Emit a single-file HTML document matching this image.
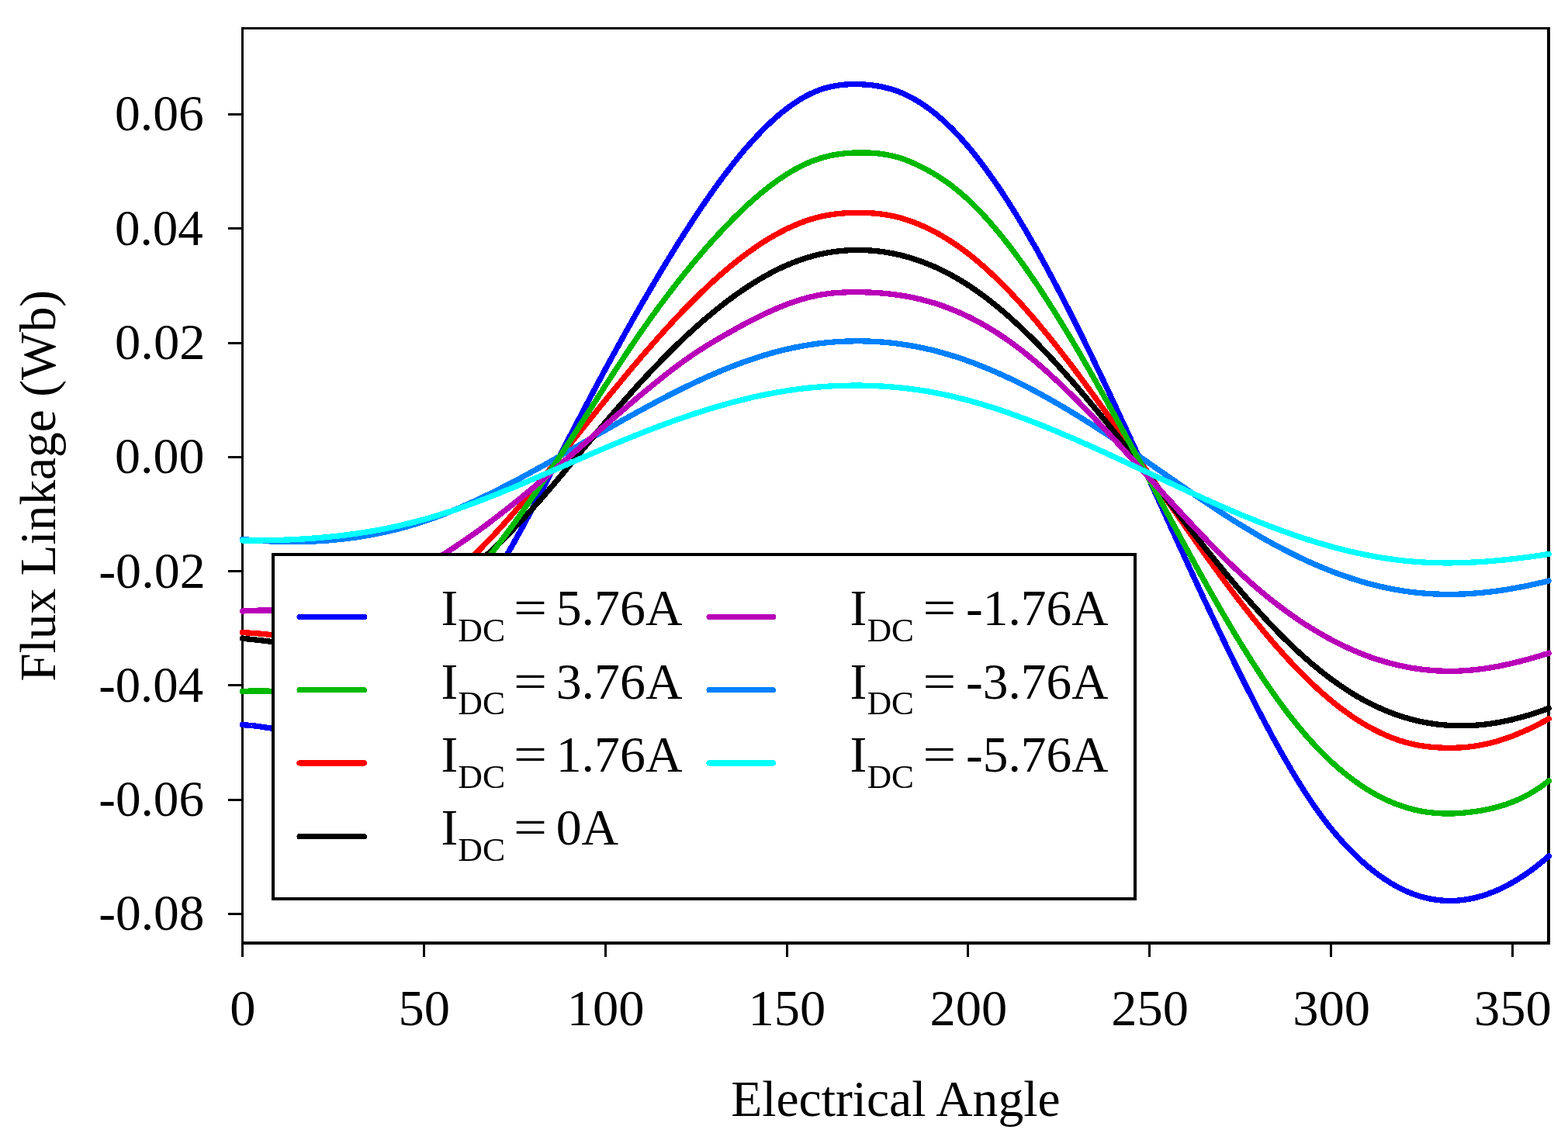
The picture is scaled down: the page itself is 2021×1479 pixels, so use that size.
<!DOCTYPE html>
<html lang="en"><head><meta charset="utf-8"><title>Flux Linkage vs Electrical Angle</title>
<style>html,body{margin:0;padding:0;background:#fff}svg{display:block}text{font-family:"Liberation Serif",serif;fill:#000}</style></head><body>
<svg width="2021" height="1479" viewBox="0 0 2021 1479">
<rect x="0" y="0" width="2021" height="1479" fill="#fff"/>
<g fill="#000" shape-rendering="crispEdges">
<rect x="311" y="35" width="3" height="1199"/>
<rect x="311" y="35" width="1687" height="3"/>
<rect x="1994" y="35" width="4" height="1183"/>
<rect x="311" y="1214" width="1687" height="4"/>
<rect x="545" y="1216" width="3" height="18"/>
<rect x="779" y="1216" width="3" height="18"/>
<rect x="1013" y="1216" width="3" height="18"/>
<rect x="1246" y="1216" width="3" height="18"/>
<rect x="1480" y="1216" width="3" height="18"/>
<rect x="1714" y="1216" width="3" height="18"/>
<rect x="1948" y="1216" width="3" height="18"/>
<rect x="294" y="146" width="18" height="3"/>
<rect x="294" y="293" width="18" height="3"/>
<rect x="294" y="441" width="18" height="3"/>
<rect x="294" y="588" width="18" height="3"/>
<rect x="294" y="735" width="18" height="3"/>
<rect x="294" y="882" width="18" height="3"/>
<rect x="294" y="1030" width="18" height="3"/>
<rect x="294" y="1177" width="18" height="3"/>
</g>
<g font-size="66.5" text-anchor="middle">
<text x="312.9" y="1322">0</text>
<text x="546.7" y="1322">50</text>
<text x="780.6" y="1322">100</text>
<text x="1014.4" y="1322">150</text>
<text x="1248.3" y="1322">200</text>
<text x="1482.1" y="1322">250</text>
<text x="1716.0" y="1322">300</text>
<text x="1949.8" y="1322">350</text>
</g>
<text font-size="66.5" transform="translate(147.99 168.46) scale(0.9871 1)">0.06</text>
<text font-size="66.5" transform="translate(148.01 315.74) scale(0.9786 1)">0.04</text>
<text font-size="66.5" transform="translate(147.95 463.02) scale(1.0022 1)">0.02</text>
<text font-size="66.5" transform="translate(147.98 610.30) scale(0.9920 1)">0.00</text>
<text font-size="66.5" transform="translate(127.14 757.58) scale(0.9930 1)">-0.02</text>
<text font-size="66.5" transform="translate(127.18 904.86) scale(0.9735 1)">-0.04</text>
<text font-size="66.5" transform="translate(127.17 1052.14) scale(0.9806 1)">-0.06</text>
<text font-size="66.5" transform="translate(127.16 1199.42) scale(0.9847 1)">-0.08</text>
<text font-size="66.5" transform="translate(942.13 1438.90) scale(0.9868 1)">Electrical Angle</text>
<text font-size="66.5" transform="translate(71.00 878.67) rotate(-90) scale(0.9834 1)">Flux Linkage (Wb)</text>
<g fill="none" stroke-width="7.3" stroke-linecap="round" stroke-linejoin="round" shape-rendering="crispEdges">
<path stroke="#0000ff" d="M312.5 934.7C316.5 934.9 320.5 935.1 324.5 935.6C328.5 936.0 332.5 936.5 336.6 937.1C340.6 937.7 344.6 938.3 348.6 938.9C352.6 939.5 356.6 940.2 360.6 940.7C364.6 941.3 368.6 941.9 372.6 942.3C376.6 942.7 380.7 943.0 384.7 943.2C388.7 943.4 392.7 943.4 396.7 943.3C400.7 943.1 404.7 942.8 408.7 942.4C412.7 941.9 416.7 941.3 420.7 940.5C424.7 939.7 428.8 938.7 432.8 937.6C436.8 936.5 440.8 935.2 444.8 933.8C448.8 932.3 452.8 930.7 456.8 929.0C460.8 927.2 464.8 925.3 468.8 923.2C472.9 921.1 476.9 918.9 480.9 916.5C484.9 914.1 488.9 911.5 492.9 908.8C496.9 906.0 500.9 903.2 504.9 900.1C508.9 897.1 512.9 893.9 517.0 890.5C521.0 887.1 525.0 883.6 529.0 879.9C533.0 876.3 537.0 872.4 541.0 868.4C545.0 864.4 549.0 860.3 553.0 856.0C557.0 851.7 561.0 847.2 565.1 842.6C569.1 837.9 573.1 833.1 577.1 828.2C581.1 823.3 585.1 818.2 589.1 812.9C593.1 807.7 597.1 802.2 601.1 796.7C605.1 791.1 609.2 785.4 613.2 779.5C617.2 773.6 621.2 767.6 625.2 761.4C629.2 755.2 633.2 748.9 637.2 742.4C641.2 735.9 645.2 729.3 649.2 722.4C653.3 715.6 657.3 708.7 661.3 701.6C665.3 694.5 669.3 687.2 673.3 679.9C677.3 672.5 681.3 665.0 685.3 657.5C689.3 649.9 693.3 642.3 697.4 634.6C701.4 626.9 705.4 619.2 709.4 611.4C713.4 603.6 717.4 595.8 721.4 588.1C725.4 580.3 729.4 572.5 733.4 564.7C737.4 557.0 741.4 549.3 745.5 541.6C749.5 534.0 753.5 526.3 757.5 518.7C761.5 511.1 765.5 503.6 769.5 496.1C773.5 488.6 777.5 481.2 781.5 473.8C785.5 466.4 789.6 459.0 793.6 451.7C797.6 444.4 801.6 437.2 805.6 430.0C809.6 422.8 813.6 415.7 817.6 408.7C821.6 401.6 825.6 394.6 829.6 387.7C833.7 380.7 837.7 373.9 841.7 367.1C845.7 360.3 849.7 353.5 853.7 346.9C857.7 340.2 861.7 333.7 865.7 327.2C869.7 320.6 873.7 314.2 877.7 307.9C881.8 301.5 885.8 295.3 889.8 289.1C893.8 282.9 897.8 276.9 901.8 270.9C905.8 264.9 909.8 259.1 913.8 253.3C917.8 247.6 921.8 241.9 925.9 236.4C929.9 230.9 933.9 225.5 937.9 220.3C941.9 215.1 945.9 210.0 949.9 205.0C953.9 200.0 957.9 195.2 961.9 190.6C965.9 186.0 970.0 181.5 974.0 177.2C978.0 172.8 982.0 168.7 986.0 164.7C990.0 160.8 994.0 157.0 998.0 153.4C1002.0 149.8 1006.0 146.4 1010.0 143.2C1014.0 140.0 1018.1 137.0 1022.1 134.3C1026.1 131.5 1030.1 128.9 1034.1 126.6C1038.1 124.2 1042.1 122.1 1046.1 120.3C1050.1 118.4 1054.1 116.7 1058.1 115.3C1062.2 113.9 1066.2 112.8 1070.2 111.9C1074.2 111.0 1078.2 110.3 1082.2 109.8C1086.2 109.2 1090.2 108.9 1094.2 108.8C1098.2 108.6 1102.2 108.6 1106.3 108.7C1110.3 108.7 1114.3 109.0 1118.3 109.3C1122.3 109.6 1126.3 110.1 1130.3 110.8C1134.3 111.4 1138.3 112.2 1142.3 113.2C1146.3 114.2 1150.4 115.4 1154.4 116.8C1158.4 118.2 1162.4 119.8 1166.4 121.6C1170.4 123.5 1174.4 125.6 1178.4 127.8C1182.4 130.1 1186.4 132.6 1190.4 135.3C1194.4 138.0 1198.5 141.0 1202.5 144.1C1206.5 147.3 1210.5 150.6 1214.5 154.2C1218.5 157.8 1222.5 161.6 1226.5 165.6C1230.5 169.6 1234.5 173.9 1238.5 178.3C1242.6 182.8 1246.6 187.4 1250.6 192.2C1254.6 197.1 1258.6 202.1 1262.6 207.3C1266.6 212.6 1270.6 218.0 1274.6 223.6C1278.6 229.1 1282.6 234.9 1286.7 240.8C1290.7 246.8 1294.7 252.8 1298.7 259.1C1302.7 265.3 1306.7 271.8 1310.7 278.3C1314.7 284.9 1318.7 291.6 1322.7 298.4C1326.7 305.3 1330.7 312.2 1334.8 319.3C1338.8 326.4 1342.8 333.7 1346.8 341.0C1350.8 348.4 1354.8 355.9 1358.8 363.4C1362.8 371.0 1366.8 378.7 1370.8 386.5C1374.8 394.3 1378.9 402.2 1382.9 410.1C1386.9 418.1 1390.9 426.2 1394.9 434.3C1398.9 442.5 1402.9 450.7 1406.9 459.0C1410.9 467.3 1414.9 475.6 1418.9 484.1C1423.0 492.5 1427.0 501.0 1431.0 509.5C1435.0 518.0 1439.0 526.6 1443.0 535.3C1447.0 543.9 1451.0 552.5 1455.0 561.2C1459.0 569.9 1463.0 578.7 1467.1 587.4C1471.1 596.2 1475.1 605.0 1479.1 613.7C1483.1 622.5 1487.1 631.3 1491.1 640.1C1495.1 648.9 1499.1 657.7 1503.1 666.5C1507.1 675.3 1511.1 684.1 1515.2 692.9C1519.2 701.6 1523.2 710.4 1527.2 719.1C1531.2 727.9 1535.2 736.6 1539.2 745.2C1543.2 753.9 1547.2 762.5 1551.2 771.1C1555.2 779.7 1559.3 788.2 1563.3 796.7C1567.3 805.2 1571.3 813.6 1575.3 821.9C1579.3 830.3 1583.3 838.6 1587.3 846.8C1591.3 855.0 1595.3 863.2 1599.3 871.2C1603.4 879.3 1607.4 887.3 1611.4 895.1C1615.4 903.0 1619.4 910.8 1623.4 918.5C1627.4 926.2 1631.4 933.7 1635.4 941.2C1639.4 948.7 1643.4 956.0 1647.4 963.2C1651.5 970.4 1655.5 977.5 1659.5 984.4C1663.5 991.3 1667.5 998.1 1671.5 1004.6C1675.5 1011.2 1679.5 1017.6 1683.5 1023.8C1687.5 1029.9 1691.5 1035.9 1695.6 1041.6C1699.6 1047.4 1703.6 1052.9 1707.6 1058.1C1711.6 1063.4 1715.6 1068.4 1719.6 1073.2C1723.6 1078.0 1727.6 1082.5 1731.6 1086.9C1735.6 1091.3 1739.7 1095.5 1743.7 1099.5C1747.7 1103.5 1751.7 1107.3 1755.7 1110.9C1759.7 1114.5 1763.7 1117.9 1767.7 1121.1C1771.7 1124.4 1775.7 1127.4 1779.7 1130.2C1783.8 1133.1 1787.8 1135.7 1791.8 1138.2C1795.8 1140.6 1799.8 1142.9 1803.8 1145.0C1807.8 1147.0 1811.8 1148.9 1815.8 1150.6C1819.8 1152.2 1823.8 1153.7 1827.8 1155.0C1831.9 1156.3 1835.9 1157.4 1839.9 1158.3C1843.9 1159.2 1847.9 1159.9 1851.9 1160.4C1855.9 1160.9 1859.9 1161.3 1863.9 1161.4C1867.9 1161.6 1871.9 1161.5 1876.0 1161.3C1880.0 1161.1 1884.0 1160.7 1888.0 1160.1C1892.0 1159.6 1896.0 1158.8 1900.0 1157.9C1904.0 1157.0 1908.0 1155.9 1912.0 1154.6C1916.0 1153.4 1920.1 1151.9 1924.1 1150.3C1928.1 1148.7 1932.1 1146.9 1936.1 1145.0C1940.1 1143.1 1944.1 1141.0 1948.1 1138.7C1952.1 1136.4 1956.1 1134.0 1960.1 1131.4C1964.1 1128.8 1968.2 1126.1 1972.2 1123.2C1976.2 1120.3 1980.2 1117.2 1984.2 1114.0C1988.2 1110.8 1992.2 1107.4 1996.2 1103.9"/>
<path stroke="#ff0000" d="M312.5 815.7C316.5 815.8 320.5 816.0 324.5 816.3C328.5 816.5 332.5 816.9 336.6 817.2C340.6 817.6 344.6 818.0 348.6 818.4C352.6 818.8 356.6 819.2 360.6 819.5C364.6 819.9 368.6 820.2 372.6 820.5C376.6 820.7 380.7 820.9 384.7 821.1C388.7 821.2 392.7 821.2 396.7 821.1C400.7 821.0 404.7 820.8 408.7 820.5C412.7 820.2 416.7 819.8 420.7 819.2C424.7 818.7 428.8 818.1 432.8 817.4C436.8 816.7 440.8 815.8 444.8 814.9C448.8 814.0 452.8 812.9 456.8 811.8C460.8 810.7 464.8 809.4 468.8 808.1C472.9 806.7 476.9 805.3 480.9 803.7C484.9 802.1 488.9 800.5 492.9 798.7C496.9 796.9 500.9 795.0 504.9 793.1C508.9 791.1 512.9 789.0 517.0 786.8C521.0 784.6 525.0 782.3 529.0 779.9C533.0 777.5 537.0 775.0 541.0 772.4C545.0 769.7 549.0 767.0 553.0 764.2C557.0 761.3 561.0 758.4 565.1 755.4C569.1 752.3 573.1 749.2 577.1 745.9C581.1 742.6 585.1 739.3 589.1 735.8C593.1 732.3 597.1 728.7 601.1 725.1C605.1 721.4 609.2 717.6 613.2 713.7C617.2 709.8 621.2 705.8 625.2 701.6C629.2 697.5 633.2 693.3 637.2 689.0C641.2 684.7 645.2 680.4 649.2 675.9C653.3 671.4 657.3 666.9 661.3 662.3C665.3 657.7 669.3 653.0 673.3 648.3C677.3 643.6 681.3 638.8 685.3 634.0C689.3 629.1 693.3 624.2 697.4 619.3C701.4 614.4 705.4 609.5 709.4 604.5C713.4 599.5 717.4 594.5 721.4 589.5C725.4 584.5 729.4 579.5 733.4 574.5C737.4 569.4 741.4 564.4 745.5 559.4C749.5 554.4 753.5 549.3 757.5 544.3C761.5 539.3 765.5 534.3 769.5 529.4C773.5 524.4 777.5 519.4 781.5 514.5C785.5 509.6 789.6 504.6 793.6 499.8C797.6 494.9 801.6 490.0 805.6 485.2C809.6 480.4 813.6 475.6 817.6 470.9C821.6 466.1 825.6 461.4 829.6 456.8C833.7 452.1 837.7 447.5 841.7 443.0C845.7 438.4 849.7 433.9 853.7 429.5C857.7 425.0 861.7 420.6 865.7 416.3C869.7 412.0 873.7 407.7 877.7 403.5C881.8 399.3 885.8 395.2 889.8 391.1C893.8 387.1 897.8 383.1 901.8 379.2C905.8 375.3 909.8 371.5 913.8 367.7C917.8 364.0 921.8 360.4 925.9 356.8C929.9 353.2 933.9 349.8 937.9 346.4C941.9 343.0 945.9 339.7 949.9 336.6C953.9 333.4 957.9 330.3 961.9 327.3C965.9 324.4 970.0 321.5 974.0 318.8C978.0 316.0 982.0 313.4 986.0 310.8C990.0 308.3 994.0 305.9 998.0 303.6C1002.0 301.4 1006.0 299.2 1010.0 297.2C1014.0 295.1 1018.1 293.2 1022.1 291.5C1026.1 289.7 1030.1 288.0 1034.1 286.5C1038.1 285.0 1042.1 283.7 1046.1 282.5C1050.1 281.2 1054.1 280.2 1058.1 279.3C1062.2 278.3 1066.2 277.6 1070.2 276.9C1074.2 276.3 1078.2 275.8 1082.2 275.4C1086.2 275.0 1090.2 274.8 1094.2 274.6C1098.2 274.4 1102.2 274.3 1106.3 274.3C1110.3 274.4 1114.3 274.4 1118.3 274.6C1122.3 274.8 1126.3 275.0 1130.3 275.4C1134.3 275.8 1138.3 276.3 1142.3 277.0C1146.3 277.6 1150.4 278.4 1154.4 279.3C1158.4 280.3 1162.4 281.4 1166.4 282.7C1170.4 283.9 1174.4 285.3 1178.4 286.9C1182.4 288.4 1186.4 290.1 1190.4 291.9C1194.4 293.8 1198.5 295.7 1202.5 297.8C1206.5 299.8 1210.5 302.0 1214.5 304.4C1218.5 306.7 1222.5 309.1 1226.5 311.8C1230.5 314.4 1234.5 317.1 1238.5 320.0C1242.6 322.9 1246.6 326.0 1250.6 329.2C1254.6 332.3 1258.6 335.7 1262.6 339.1C1266.6 342.5 1270.6 346.1 1274.6 349.8C1278.6 353.5 1282.6 357.3 1286.7 361.2C1290.7 365.1 1294.7 369.2 1298.7 373.3C1302.7 377.5 1306.7 381.7 1310.7 386.1C1314.7 390.4 1318.7 394.9 1322.7 399.4C1326.7 404.0 1330.7 408.6 1334.8 413.3C1338.8 418.1 1342.8 422.9 1346.8 427.8C1350.8 432.6 1354.8 437.6 1358.8 442.6C1362.8 447.7 1366.8 452.8 1370.8 458.0C1374.8 463.2 1378.9 468.4 1382.9 473.7C1386.9 479.0 1390.9 484.4 1394.9 489.8C1398.9 495.2 1402.9 500.7 1406.9 506.2C1410.9 511.7 1414.9 517.2 1418.9 522.8C1423.0 528.4 1427.0 534.1 1431.0 539.7C1435.0 545.4 1439.0 551.1 1443.0 556.8C1447.0 562.5 1451.0 568.3 1455.0 574.0C1459.0 579.8 1463.0 585.6 1467.1 591.4C1471.1 597.2 1475.1 603.0 1479.1 608.8C1483.1 614.6 1487.1 620.4 1491.1 626.2C1495.1 632.0 1499.1 637.8 1503.1 643.6C1507.1 649.4 1511.1 655.1 1515.2 660.9C1519.2 666.7 1523.2 672.4 1527.2 678.1C1531.2 683.9 1535.2 689.6 1539.2 695.2C1543.2 700.9 1547.2 706.5 1551.2 712.1C1555.2 717.7 1559.3 723.3 1563.3 728.8C1567.3 734.4 1571.3 739.8 1575.3 745.3C1579.3 750.7 1583.3 756.0 1587.3 761.4C1591.3 766.7 1595.3 771.9 1599.3 777.1C1603.4 782.3 1607.4 787.4 1611.4 792.5C1615.4 797.6 1619.4 802.5 1623.4 807.4C1627.4 812.3 1631.4 817.2 1635.4 821.9C1639.4 826.7 1643.4 831.3 1647.4 835.9C1651.5 840.4 1655.5 844.9 1659.5 849.3C1663.5 853.6 1667.5 857.9 1671.5 862.1C1675.5 866.2 1679.5 870.3 1683.5 874.3C1687.5 878.2 1691.5 882.0 1695.6 885.7C1699.6 889.5 1703.6 893.1 1707.6 896.5C1711.6 900.0 1715.6 903.3 1719.6 906.6C1723.6 909.8 1727.6 912.9 1731.6 915.9C1735.6 918.8 1739.7 921.7 1743.7 924.4C1747.7 927.1 1751.7 929.7 1755.7 932.1C1759.7 934.6 1763.7 936.9 1767.7 939.0C1771.7 941.2 1775.7 943.2 1779.7 945.1C1783.8 947.0 1787.8 948.8 1791.8 950.4C1795.8 952.0 1799.8 953.5 1803.8 954.8C1807.8 956.1 1811.8 957.3 1815.8 958.3C1819.8 959.4 1823.8 960.2 1827.8 961.0C1831.9 961.7 1835.9 962.3 1839.9 962.7C1843.9 963.2 1847.9 963.6 1851.9 963.8C1855.9 964.1 1859.9 964.2 1863.9 964.3C1867.9 964.4 1871.9 964.4 1876.0 964.2C1880.0 964.1 1884.0 963.9 1888.0 963.6C1892.0 963.2 1896.0 962.8 1900.0 962.2C1904.0 961.6 1908.0 960.9 1912.0 960.1C1916.0 959.3 1920.1 958.3 1924.1 957.3C1928.1 956.2 1932.1 955.1 1936.1 953.8C1940.1 952.5 1944.1 951.1 1948.1 949.6C1952.1 948.1 1956.1 946.4 1960.1 944.7C1964.1 943.0 1968.2 941.2 1972.2 939.3C1976.2 937.4 1980.2 935.4 1984.2 933.3C1988.2 931.2 1992.2 929.0 1996.2 926.7"/>
<path stroke="#0080ff" d="M312.5 695.4C316.5 695.8 320.5 696.1 324.5 696.5C328.5 696.8 332.5 697.1 336.6 697.3C340.6 697.5 344.6 697.8 348.6 697.9C352.6 698.1 356.6 698.3 360.6 698.4C364.6 698.5 368.6 698.5 372.6 698.6C376.6 698.6 380.7 698.6 384.7 698.6C388.7 698.5 392.7 698.4 396.7 698.3C400.7 698.2 404.7 698.0 408.7 697.8C412.7 697.6 416.7 697.3 420.7 697.1C424.7 696.8 428.8 696.4 432.8 696.0C436.8 695.7 440.8 695.2 444.8 694.8C448.8 694.3 452.8 693.8 456.8 693.2C460.8 692.7 464.8 692.0 468.8 691.4C472.9 690.7 476.9 690.0 480.9 689.3C484.9 688.5 488.9 687.7 492.9 686.9C496.9 686.0 500.9 685.1 504.9 684.1C508.9 683.2 512.9 682.2 517.0 681.1C521.0 680.0 525.0 678.9 529.0 677.7C533.0 676.6 537.0 675.3 541.0 674.1C545.0 672.8 549.0 671.4 553.0 670.0C557.0 668.6 561.0 667.2 565.1 665.7C569.1 664.2 573.1 662.6 577.1 661.0C581.1 659.4 585.1 657.8 589.1 656.1C593.1 654.4 597.1 652.7 601.1 650.9C605.1 649.1 609.2 647.3 613.2 645.4C617.2 643.6 621.2 641.7 625.2 639.7C629.2 637.8 633.2 635.8 637.2 633.8C641.2 631.8 645.2 629.8 649.2 627.7C653.3 625.7 657.3 623.6 661.3 621.5C665.3 619.4 669.3 617.2 673.3 615.1C677.3 612.9 681.3 610.7 685.3 608.5C689.3 606.3 693.3 604.1 697.4 601.9C701.4 599.7 705.4 597.4 709.4 595.1C713.4 592.9 717.4 590.6 721.4 588.3C725.4 586.0 729.4 583.8 733.4 581.5C737.4 579.2 741.4 576.9 745.5 574.6C749.5 572.3 753.5 570.0 757.5 567.6C761.5 565.3 765.5 563.0 769.5 560.7C773.5 558.4 777.5 556.1 781.5 553.9C785.5 551.6 789.6 549.3 793.6 547.0C797.6 544.8 801.6 542.5 805.6 540.2C809.6 538.0 813.6 535.8 817.6 533.6C821.6 531.3 825.6 529.1 829.6 527.0C833.7 524.8 837.7 522.6 841.7 520.5C845.7 518.3 849.7 516.2 853.7 514.1C857.7 512.0 861.7 510.0 865.7 507.9C869.7 505.9 873.7 503.9 877.7 501.9C881.8 499.9 885.8 497.9 889.8 496.0C893.8 494.1 897.8 492.2 901.8 490.4C905.8 488.5 909.8 486.7 913.8 484.9C917.8 483.2 921.8 481.4 925.9 479.7C929.9 478.0 933.9 476.4 937.9 474.8C941.9 473.2 945.9 471.6 949.9 470.1C953.9 468.6 957.9 467.1 961.9 465.7C965.9 464.3 970.0 462.9 974.0 461.6C978.0 460.3 982.0 459.0 986.0 457.8C990.0 456.6 994.0 455.4 998.0 454.3C1002.0 453.3 1006.0 452.2 1010.0 451.3C1014.0 450.3 1018.1 449.4 1022.1 448.5C1026.1 447.7 1030.1 446.9 1034.1 446.2C1038.1 445.5 1042.1 444.8 1046.1 444.2C1050.1 443.6 1054.1 443.1 1058.1 442.6C1062.2 442.1 1066.2 441.7 1070.2 441.4C1074.2 441.0 1078.2 440.7 1082.2 440.5C1086.2 440.3 1090.2 440.1 1094.2 440.0C1098.2 439.9 1102.2 439.8 1106.3 439.8C1110.3 439.8 1114.3 439.9 1118.3 440.0C1122.3 440.2 1126.3 440.3 1130.3 440.6C1134.3 440.8 1138.3 441.1 1142.3 441.5C1146.3 441.9 1150.4 442.3 1154.4 442.8C1158.4 443.3 1162.4 443.9 1166.4 444.5C1170.4 445.1 1174.4 445.8 1178.4 446.5C1182.4 447.2 1186.4 448.0 1190.4 448.9C1194.4 449.8 1198.5 450.7 1202.5 451.7C1206.5 452.7 1210.5 453.7 1214.5 454.9C1218.5 456.0 1222.5 457.2 1226.5 458.4C1230.5 459.6 1234.5 460.9 1238.5 462.3C1242.6 463.6 1246.6 465.1 1250.6 466.5C1254.6 468.0 1258.6 469.5 1262.6 471.1C1266.6 472.7 1270.6 474.3 1274.6 476.0C1278.6 477.6 1282.6 479.4 1286.7 481.2C1290.7 482.9 1294.7 484.8 1298.7 486.6C1302.7 488.5 1306.7 490.4 1310.7 492.4C1314.7 494.4 1318.7 496.4 1322.7 498.4C1326.7 500.5 1330.7 502.6 1334.8 504.7C1338.8 506.9 1342.8 509.1 1346.8 511.3C1350.8 513.5 1354.8 515.8 1358.8 518.1C1362.8 520.4 1366.8 522.7 1370.8 525.1C1374.8 527.4 1378.9 529.8 1382.9 532.3C1386.9 534.7 1390.9 537.2 1394.9 539.7C1398.9 542.2 1402.9 544.7 1406.9 547.3C1410.9 549.9 1414.9 552.4 1418.9 555.1C1423.0 557.7 1427.0 560.3 1431.0 563.0C1435.0 565.7 1439.0 568.4 1443.0 571.1C1447.0 573.8 1451.0 576.5 1455.0 579.3C1459.0 582.0 1463.0 584.8 1467.1 587.5C1471.1 590.3 1475.1 593.1 1479.1 595.9C1483.1 598.7 1487.1 601.5 1491.1 604.3C1495.1 607.0 1499.1 609.8 1503.1 612.6C1507.1 615.4 1511.1 618.2 1515.2 621.0C1519.2 623.8 1523.2 626.6 1527.2 629.3C1531.2 632.1 1535.2 634.9 1539.2 637.6C1543.2 640.4 1547.2 643.1 1551.2 645.8C1555.2 648.5 1559.3 651.2 1563.3 653.8C1567.3 656.5 1571.3 659.1 1575.3 661.7C1579.3 664.4 1583.3 666.9 1587.3 669.5C1591.3 672.0 1595.3 674.5 1599.3 677.0C1603.4 679.5 1607.4 681.9 1611.4 684.3C1615.4 686.7 1619.4 689.1 1623.4 691.4C1627.4 693.7 1631.4 696.0 1635.4 698.2C1639.4 700.5 1643.4 702.6 1647.4 704.8C1651.5 706.9 1655.5 709.0 1659.5 711.0C1663.5 713.1 1667.5 715.1 1671.5 717.0C1675.5 719.0 1679.5 720.9 1683.5 722.7C1687.5 724.6 1691.5 726.4 1695.6 728.1C1699.6 729.8 1703.6 731.5 1707.6 733.2C1711.6 734.8 1715.6 736.4 1719.6 737.9C1723.6 739.4 1727.6 740.9 1731.6 742.3C1735.6 743.7 1739.7 745.1 1743.7 746.4C1747.7 747.7 1751.7 748.9 1755.7 750.1C1759.7 751.3 1763.7 752.4 1767.7 753.4C1771.7 754.5 1775.7 755.5 1779.7 756.4C1783.8 757.3 1787.8 758.2 1791.8 759.0C1795.8 759.8 1799.8 760.5 1803.8 761.2C1807.8 761.9 1811.8 762.5 1815.8 763.0C1819.8 763.5 1823.8 764.0 1827.8 764.4C1831.9 764.8 1835.9 765.1 1839.9 765.4C1843.9 765.7 1847.9 765.9 1851.9 766.1C1855.9 766.2 1859.9 766.3 1863.9 766.3C1867.9 766.4 1871.9 766.3 1876.0 766.3C1880.0 766.2 1884.0 766.0 1888.0 765.9C1892.0 765.7 1896.0 765.4 1900.0 765.1C1904.0 764.8 1908.0 764.5 1912.0 764.1C1916.0 763.7 1920.1 763.2 1924.1 762.7C1928.1 762.2 1932.1 761.7 1936.1 761.1C1940.1 760.5 1944.1 759.8 1948.1 759.1C1952.1 758.5 1956.1 757.7 1960.1 756.9C1964.1 756.2 1968.2 755.4 1972.2 754.5C1976.2 753.6 1980.2 752.7 1984.2 751.8C1988.2 750.9 1992.2 749.9 1996.2 748.9"/>
<path stroke="#000000" d="M312.5 823.3C316.5 823.7 320.5 824.0 324.5 824.5C328.5 824.9 332.5 825.3 336.6 825.8C340.6 826.3 344.6 826.7 348.6 827.2C352.6 827.7 356.6 828.1 360.6 828.5C364.6 828.9 368.6 829.2 372.6 829.5C376.6 829.8 380.7 830.0 384.7 830.1C388.7 830.1 392.7 830.1 396.7 830.0C400.7 829.9 404.7 829.7 408.7 829.4C412.7 829.1 416.7 828.6 420.7 828.1C424.7 827.6 428.8 826.9 432.8 826.2C436.8 825.4 440.8 824.6 444.8 823.7C448.8 822.7 452.8 821.7 456.8 820.5C460.8 819.4 464.8 818.2 468.8 816.8C472.9 815.5 476.9 814.0 480.9 812.5C484.9 811.0 488.9 809.3 492.9 807.6C496.9 805.9 500.9 804.1 504.9 802.1C508.9 800.2 512.9 798.2 517.0 796.1C521.0 794.0 525.0 791.8 529.0 789.5C533.0 787.2 537.0 784.9 541.0 782.4C545.0 779.9 549.0 777.4 553.0 774.7C557.0 772.1 561.0 769.3 565.1 766.5C569.1 763.7 573.1 760.8 577.1 757.8C581.1 754.8 585.1 751.7 589.1 748.5C593.1 745.3 597.1 742.1 601.1 738.7C605.1 735.4 609.2 732.0 613.2 728.5C617.2 725.0 621.2 721.4 625.2 717.7C629.2 714.0 633.2 710.3 637.2 706.5C641.2 702.6 645.2 698.7 649.2 694.8C653.3 690.8 657.3 686.7 661.3 682.6C665.3 678.4 669.3 674.2 673.3 669.9C677.3 665.7 681.3 661.3 685.3 656.9C689.3 652.5 693.3 648.0 697.4 643.4C701.4 638.8 705.4 634.2 709.4 629.5C713.4 624.8 717.4 620.1 721.4 615.3C725.4 610.6 729.4 605.8 733.4 600.9C737.4 596.1 741.4 591.3 745.5 586.4C749.5 581.6 753.5 576.7 757.5 571.9C761.5 567.1 765.5 562.2 769.5 557.4C773.5 552.7 777.5 547.9 781.5 543.2C785.5 538.4 789.6 533.7 793.6 529.1C797.6 524.5 801.6 519.9 805.6 515.3C809.6 510.8 813.6 506.3 817.6 501.8C821.6 497.4 825.6 493.0 829.6 488.7C833.7 484.3 837.7 480.1 841.7 475.8C845.7 471.6 849.7 467.5 853.7 463.4C857.7 459.3 861.7 455.2 865.7 451.3C869.7 447.3 873.7 443.4 877.7 439.6C881.8 435.8 885.8 432.0 889.8 428.3C893.8 424.6 897.8 421.0 901.8 417.5C905.8 414.0 909.8 410.5 913.8 407.2C917.8 403.8 921.8 400.5 925.9 397.3C929.9 394.1 933.9 391.0 937.9 387.9C941.9 384.9 945.9 382.0 949.9 379.1C953.9 376.3 957.9 373.5 961.9 370.9C965.9 368.2 970.0 365.6 974.0 363.2C978.0 360.7 982.0 358.3 986.0 356.1C990.0 353.8 994.0 351.7 998.0 349.6C1002.0 347.6 1006.0 345.7 1010.0 343.8C1014.0 342.0 1018.1 340.3 1022.1 338.7C1026.1 337.1 1030.1 335.6 1034.1 334.3C1038.1 332.9 1042.1 331.7 1046.1 330.6C1050.1 329.5 1054.1 328.5 1058.1 327.6C1062.2 326.7 1066.2 326.0 1070.2 325.3C1074.2 324.7 1078.2 324.1 1082.2 323.7C1086.2 323.3 1090.2 323.0 1094.2 322.8C1098.2 322.6 1102.2 322.5 1106.3 322.5C1110.3 322.5 1114.3 322.6 1118.3 322.8C1122.3 323.0 1126.3 323.3 1130.3 323.8C1134.3 324.2 1138.3 324.7 1142.3 325.3C1146.3 326.0 1150.4 326.7 1154.4 327.6C1158.4 328.4 1162.4 329.4 1166.4 330.5C1170.4 331.6 1174.4 332.7 1178.4 334.0C1182.4 335.3 1186.4 336.7 1190.4 338.2C1194.4 339.8 1198.5 341.4 1202.5 343.1C1206.5 344.9 1210.5 346.7 1214.5 348.7C1218.5 350.7 1222.5 352.7 1226.5 354.9C1230.5 357.1 1234.5 359.4 1238.5 361.9C1242.6 364.3 1246.6 366.8 1250.6 369.5C1254.6 372.2 1258.6 374.9 1262.6 377.8C1266.6 380.7 1270.6 383.7 1274.6 386.8C1278.6 389.9 1282.6 393.2 1286.7 396.5C1290.7 399.8 1294.7 403.2 1298.7 406.7C1302.7 410.3 1306.7 413.9 1310.7 417.6C1314.7 421.3 1318.7 425.1 1322.7 429.0C1326.7 432.8 1330.7 436.8 1334.8 440.8C1338.8 444.9 1342.8 449.0 1346.8 453.2C1350.8 457.4 1354.8 461.7 1358.8 466.0C1362.8 470.4 1366.8 474.8 1370.8 479.3C1374.8 483.8 1378.9 488.3 1382.9 492.9C1386.9 497.5 1390.9 502.1 1394.9 506.9C1398.9 511.6 1402.9 516.3 1406.9 521.1C1410.9 525.9 1414.9 530.8 1418.9 535.7C1423.0 540.6 1427.0 545.5 1431.0 550.5C1435.0 555.5 1439.0 560.5 1443.0 565.5C1447.0 570.6 1451.0 575.6 1455.0 580.7C1459.0 585.8 1463.0 591.0 1467.1 596.1C1471.1 601.2 1475.1 606.4 1479.1 611.5C1483.1 616.7 1487.1 621.9 1491.1 627.0C1495.1 632.2 1499.1 637.4 1503.1 642.6C1507.1 647.7 1511.1 652.9 1515.2 658.1C1519.2 663.2 1523.2 668.4 1527.2 673.5C1531.2 678.6 1535.2 683.7 1539.2 688.8C1543.2 693.9 1547.2 699.0 1551.2 704.0C1555.2 709.1 1559.3 714.1 1563.3 719.0C1567.3 724.0 1571.3 728.9 1575.3 733.8C1579.3 738.7 1583.3 743.5 1587.3 748.3C1591.3 753.1 1595.3 757.8 1599.3 762.5C1603.4 767.1 1607.4 771.7 1611.4 776.3C1615.4 780.8 1619.4 785.3 1623.4 789.7C1627.4 794.1 1631.4 798.5 1635.4 802.7C1639.4 807.0 1643.4 811.2 1647.4 815.3C1651.5 819.4 1655.5 823.4 1659.5 827.3C1663.5 831.2 1667.5 835.0 1671.5 838.7C1675.5 842.4 1679.5 846.1 1683.5 849.6C1687.5 853.1 1691.5 856.5 1695.6 859.8C1699.6 863.2 1703.6 866.4 1707.6 869.5C1711.6 872.6 1715.6 875.6 1719.6 878.5C1723.6 881.4 1727.6 884.2 1731.6 886.8C1735.6 889.5 1739.7 892.1 1743.7 894.6C1747.7 897.0 1751.7 899.4 1755.7 901.6C1759.7 903.8 1763.7 905.9 1767.7 908.0C1771.7 910.0 1775.7 911.8 1779.7 913.6C1783.8 915.4 1787.8 917.1 1791.8 918.6C1795.8 920.2 1799.8 921.6 1803.8 922.9C1807.8 924.3 1811.8 925.5 1815.8 926.6C1819.8 927.7 1823.8 928.8 1827.8 929.7C1831.9 930.6 1835.9 931.4 1839.9 932.1C1843.9 932.8 1847.9 933.4 1851.9 933.9C1855.9 934.4 1859.9 934.8 1863.9 935.1C1867.9 935.4 1871.9 935.6 1876.0 935.7C1880.0 935.9 1884.0 935.9 1888.0 935.8C1892.0 935.7 1896.0 935.6 1900.0 935.3C1904.0 935.0 1908.0 934.7 1912.0 934.3C1916.0 933.8 1920.1 933.3 1924.1 932.7C1928.1 932.1 1932.1 931.4 1936.1 930.6C1940.1 929.9 1944.1 929.0 1948.1 928.1C1952.1 927.1 1956.1 926.1 1960.1 925.0C1964.1 924.0 1968.2 922.8 1972.2 921.6C1976.2 920.3 1980.2 919.0 1984.2 917.6C1988.2 916.2 1992.2 914.8 1996.2 913.3"/>
<path stroke="#00b900" d="M312.5 891.6C316.5 891.3 320.5 891.1 324.5 891.0C328.5 890.9 332.5 890.9 336.6 891.0C340.6 891.0 344.6 891.1 348.6 891.2C352.6 891.3 356.6 891.4 360.6 891.5C364.6 891.5 368.6 891.6 372.6 891.5C376.6 891.4 380.7 891.3 384.7 891.0C388.7 890.7 392.7 890.3 396.7 889.8C400.7 889.2 404.7 888.5 408.7 887.7C412.7 886.9 416.7 885.9 420.7 884.8C424.7 883.7 428.8 882.5 432.8 881.2C436.8 879.8 440.8 878.3 444.8 876.7C448.8 875.1 452.8 873.3 456.8 871.4C460.8 869.6 464.8 867.6 468.8 865.4C472.9 863.3 476.9 861.1 480.9 858.7C484.9 856.3 488.9 853.8 492.9 851.2C496.9 848.6 500.9 845.8 504.9 843.0C508.9 840.1 512.9 837.1 517.0 834.0C521.0 831.0 525.0 827.7 529.0 824.4C533.0 821.1 537.0 817.7 541.0 814.1C545.0 810.6 549.0 806.9 553.0 803.2C557.0 799.4 561.0 795.5 565.1 791.5C569.1 787.6 573.1 783.5 577.1 779.3C581.1 775.1 585.1 770.8 589.1 766.4C593.1 762.0 597.1 757.5 601.1 752.9C605.1 748.3 609.2 743.6 613.2 738.8C617.2 734.0 621.2 729.1 625.2 724.1C629.2 719.1 633.2 714.0 637.2 708.8C641.2 703.6 645.2 698.3 649.2 693.0C653.3 687.6 657.3 682.2 661.3 676.7C665.3 671.1 669.3 665.5 673.3 659.9C677.3 654.2 681.3 648.4 685.3 642.6C689.3 636.8 693.3 631.0 697.4 625.0C701.4 619.1 705.4 613.1 709.4 607.1C713.4 601.1 717.4 595.0 721.4 588.9C725.4 582.8 729.4 576.6 733.4 570.4C737.4 564.2 741.4 558.0 745.5 551.7C749.5 545.5 753.5 539.2 757.5 532.9C761.5 526.6 765.5 520.4 769.5 514.1C773.5 507.8 777.5 501.6 781.5 495.3C785.5 489.1 789.6 482.9 793.6 476.7C797.6 470.6 801.6 464.5 805.6 458.4C809.6 452.4 813.6 446.4 817.6 440.5C821.6 434.6 825.6 428.8 829.6 423.1C833.7 417.3 837.7 411.7 841.7 406.1C845.7 400.6 849.7 395.1 853.7 389.7C857.7 384.3 861.7 379.1 865.7 373.9C869.7 368.6 873.7 363.5 877.7 358.5C881.8 353.5 885.8 348.5 889.8 343.7C893.8 338.8 897.8 334.0 901.8 329.3C905.8 324.6 909.8 320.0 913.8 315.5C917.8 311.0 921.8 306.6 925.9 302.2C929.9 297.9 933.9 293.6 937.9 289.4C941.9 285.3 945.9 281.2 949.9 277.3C953.9 273.3 957.9 269.5 961.9 265.7C965.9 262.0 970.0 258.4 974.0 254.9C978.0 251.5 982.0 248.1 986.0 244.9C990.0 241.7 994.0 238.6 998.0 235.7C1002.0 232.7 1006.0 229.9 1010.0 227.3C1014.0 224.7 1018.1 222.2 1022.1 219.9C1026.1 217.6 1030.1 215.4 1034.1 213.5C1038.1 211.5 1042.1 209.7 1046.1 208.1C1050.1 206.5 1054.1 205.1 1058.1 203.8C1062.2 202.6 1066.2 201.6 1070.2 200.7C1074.2 199.8 1078.2 199.2 1082.2 198.6C1086.2 198.1 1090.2 197.7 1094.2 197.4C1098.2 197.1 1102.2 197.0 1106.3 196.9C1110.3 196.8 1114.3 196.9 1118.3 197.0C1122.3 197.1 1126.3 197.4 1130.3 197.8C1134.3 198.2 1138.3 198.7 1142.3 199.4C1146.3 200.1 1150.4 201.0 1154.4 202.1C1158.4 203.1 1162.4 204.4 1166.4 205.9C1170.4 207.3 1174.4 209.0 1178.4 210.8C1182.4 212.6 1186.4 214.5 1190.4 216.6C1194.4 218.8 1198.5 221.0 1202.5 223.4C1206.5 225.7 1210.5 228.2 1214.5 230.9C1218.5 233.6 1222.5 236.4 1226.5 239.4C1230.5 242.5 1234.5 245.7 1238.5 249.2C1242.6 252.6 1246.6 256.3 1250.6 260.1C1254.6 263.9 1258.6 267.9 1262.6 272.1C1266.6 276.3 1270.6 280.7 1274.6 285.2C1278.6 289.7 1282.6 294.4 1286.7 299.2C1290.7 304.1 1294.7 309.1 1298.7 314.2C1302.7 319.4 1306.7 324.7 1310.7 330.1C1314.7 335.6 1318.7 341.1 1322.7 346.8C1326.7 352.5 1330.7 358.4 1334.8 364.3C1338.8 370.3 1342.8 376.3 1346.8 382.5C1350.8 388.7 1354.8 395.0 1358.8 401.4C1362.8 407.8 1366.8 414.3 1370.8 420.9C1374.8 427.4 1378.9 434.1 1382.9 440.9C1386.9 447.6 1390.9 454.5 1394.9 461.4C1398.9 468.3 1402.9 475.3 1406.9 482.3C1410.9 489.4 1414.9 496.5 1418.9 503.7C1423.0 510.8 1427.0 518.0 1431.0 525.3C1435.0 532.6 1439.0 539.9 1443.0 547.2C1447.0 554.6 1451.0 562.0 1455.0 569.4C1459.0 576.8 1463.0 584.2 1467.1 591.7C1471.1 599.1 1475.1 606.6 1479.1 614.1C1483.1 621.6 1487.1 629.1 1491.1 636.5C1495.1 644.0 1499.1 651.5 1503.1 659.0C1507.1 666.5 1511.1 673.9 1515.2 681.3C1519.2 688.8 1523.2 696.2 1527.2 703.5C1531.2 710.9 1535.2 718.2 1539.2 725.5C1543.2 732.8 1547.2 740.1 1551.2 747.2C1555.2 754.4 1559.3 761.6 1563.3 768.6C1567.3 775.7 1571.3 782.7 1575.3 789.6C1579.3 796.5 1583.3 803.3 1587.3 810.0C1591.3 816.8 1595.3 823.4 1599.3 830.0C1603.4 836.5 1607.4 843.0 1611.4 849.3C1615.4 855.6 1619.4 861.8 1623.4 867.9C1627.4 874.0 1631.4 880.0 1635.4 885.8C1639.4 891.6 1643.4 897.3 1647.4 902.9C1651.5 908.4 1655.5 913.8 1659.5 919.1C1663.5 924.3 1667.5 929.4 1671.5 934.3C1675.5 939.3 1679.5 944.0 1683.5 948.6C1687.5 953.2 1691.5 957.6 1695.6 961.9C1699.6 966.2 1703.6 970.3 1707.6 974.2C1711.6 978.2 1715.6 981.9 1719.6 985.6C1723.6 989.2 1727.6 992.6 1731.6 995.9C1735.6 999.2 1739.7 1002.4 1743.7 1005.3C1747.7 1008.3 1751.7 1011.2 1755.7 1013.8C1759.7 1016.5 1763.7 1019.0 1767.7 1021.4C1771.7 1023.7 1775.7 1025.9 1779.7 1028.0C1783.8 1030.0 1787.8 1031.9 1791.8 1033.6C1795.8 1035.4 1799.8 1037.0 1803.8 1038.4C1807.8 1039.8 1811.8 1041.1 1815.8 1042.2C1819.8 1043.4 1823.8 1044.4 1827.8 1045.2C1831.9 1046.0 1835.9 1046.7 1839.9 1047.3C1843.9 1047.8 1847.9 1048.2 1851.9 1048.5C1855.9 1048.8 1859.9 1049.0 1863.9 1049.0C1867.9 1049.1 1871.9 1049.0 1876.0 1048.8C1880.0 1048.7 1884.0 1048.4 1888.0 1048.0C1892.0 1047.6 1896.0 1047.1 1900.0 1046.6C1904.0 1046.0 1908.0 1045.4 1912.0 1044.6C1916.0 1043.9 1920.1 1043.1 1924.1 1042.1C1928.1 1041.1 1932.1 1040.0 1936.1 1038.8C1940.1 1037.6 1944.1 1036.2 1948.1 1034.6C1952.1 1033.1 1956.1 1031.4 1960.1 1029.5C1964.1 1027.6 1968.2 1025.5 1972.2 1023.2C1976.2 1020.9 1980.2 1018.4 1984.2 1015.7C1988.2 1012.9 1992.2 1009.9 1996.2 1006.8"/>
<path stroke="#b900b9" d="M312.5 788.0C316.5 787.7 320.5 787.5 324.5 787.4C328.5 787.2 332.5 787.1 336.6 787.1C340.6 787.0 344.6 786.9 348.6 786.9C352.6 786.8 356.6 786.7 360.6 786.6C364.6 786.5 368.6 786.4 372.6 786.2C376.6 786.1 380.7 785.8 384.7 785.5C388.7 785.2 392.7 784.8 396.7 784.3C400.7 783.8 404.7 783.2 408.7 782.6C412.7 781.9 416.7 781.1 420.7 780.3C424.7 779.5 428.8 778.6 432.8 777.6C436.8 776.6 440.8 775.5 444.8 774.4C448.8 773.2 452.8 772.0 456.8 770.7C460.8 769.4 464.8 768.0 468.8 766.6C472.9 765.1 476.9 763.6 480.9 762.0C484.9 760.4 488.9 758.8 492.9 757.0C496.9 755.3 500.9 753.5 504.9 751.6C508.9 749.8 512.9 747.8 517.0 745.8C521.0 743.8 525.0 741.8 529.0 739.6C533.0 737.5 537.0 735.3 541.0 733.1C545.0 730.8 549.0 728.5 553.0 726.2C557.0 723.8 561.0 721.4 565.1 718.9C569.1 716.4 573.1 713.9 577.1 711.3C581.1 708.7 585.1 706.1 589.1 703.4C593.1 700.7 597.1 698.0 601.1 695.2C605.1 692.4 609.2 689.6 613.2 686.7C617.2 683.9 621.2 680.9 625.2 678.0C629.2 675.0 633.2 672.0 637.2 668.9C641.2 665.9 645.2 662.8 649.2 659.6C653.3 656.5 657.3 653.3 661.3 650.1C665.3 646.9 669.3 643.7 673.3 640.4C677.3 637.1 681.3 633.8 685.3 630.5C689.3 627.1 693.3 623.7 697.4 620.3C701.4 617.0 705.4 613.5 709.4 610.1C713.4 606.7 717.4 603.2 721.4 599.7C725.4 596.3 729.4 592.8 733.4 589.3C737.4 585.8 741.4 582.3 745.5 578.8C749.5 575.3 753.5 571.8 757.5 568.3C761.5 564.7 765.5 561.2 769.5 557.7C773.5 554.2 777.5 550.7 781.5 547.2C785.5 543.7 789.6 540.3 793.6 536.8C797.6 533.3 801.6 529.9 805.6 526.5C809.6 523.0 813.6 519.6 817.6 516.2C821.6 512.8 825.6 509.5 829.6 506.1C833.7 502.8 837.7 499.5 841.7 496.2C845.7 493.0 849.7 489.7 853.7 486.6C857.7 483.4 861.7 480.2 865.7 477.2C869.7 474.1 873.7 471.1 877.7 468.2C881.8 465.2 885.8 462.4 889.8 459.6C893.8 456.8 897.8 454.2 901.8 451.6C905.8 449.0 909.8 446.5 913.8 444.0C917.8 441.6 921.8 439.2 925.9 436.9C929.9 434.5 933.9 432.2 937.9 429.9C941.9 427.7 945.9 425.4 949.9 423.2C953.9 421.0 957.9 418.8 961.9 416.7C965.9 414.6 970.0 412.5 974.0 410.4C978.0 408.4 982.0 406.5 986.0 404.6C990.0 402.7 994.0 400.8 998.0 399.1C1002.0 397.3 1006.0 395.7 1010.0 394.1C1014.0 392.5 1018.1 391.0 1022.1 389.6C1026.1 388.3 1030.1 387.0 1034.1 385.8C1038.1 384.6 1042.1 383.5 1046.1 382.6C1050.1 381.6 1054.1 380.8 1058.1 380.1C1062.2 379.4 1066.2 378.8 1070.2 378.3C1074.2 377.9 1078.2 377.5 1082.2 377.3C1086.2 377.0 1090.2 376.8 1094.2 376.8C1098.2 376.7 1102.2 376.7 1106.3 376.7C1110.3 376.7 1114.3 376.8 1118.3 377.0C1122.3 377.1 1126.3 377.3 1130.3 377.6C1134.3 377.8 1138.3 378.2 1142.3 378.6C1146.3 379.0 1150.4 379.4 1154.4 380.0C1158.4 380.5 1162.4 381.1 1166.4 381.8C1170.4 382.5 1174.4 383.3 1178.4 384.1C1182.4 385.0 1186.4 385.9 1190.4 387.0C1194.4 388.0 1198.5 389.1 1202.5 390.3C1206.5 391.6 1210.5 392.9 1214.5 394.3C1218.5 395.7 1222.5 397.2 1226.5 398.8C1230.5 400.4 1234.5 402.1 1238.5 403.9C1242.6 405.7 1246.6 407.6 1250.6 409.6C1254.6 411.6 1258.6 413.7 1262.6 415.9C1266.6 418.1 1270.6 420.4 1274.6 422.8C1278.6 425.2 1282.6 427.7 1286.7 430.3C1290.7 432.9 1294.7 435.6 1298.7 438.4C1302.7 441.3 1306.7 444.2 1310.7 447.2C1314.7 450.2 1318.7 453.3 1322.7 456.6C1326.7 459.8 1330.7 463.1 1334.8 466.5C1338.8 469.9 1342.8 473.4 1346.8 476.9C1350.8 480.5 1354.8 484.2 1358.8 487.9C1362.8 491.6 1366.8 495.4 1370.8 499.2C1374.8 503.1 1378.9 507.0 1382.9 511.0C1386.9 515.0 1390.9 519.0 1394.9 523.1C1398.9 527.2 1402.9 531.3 1406.9 535.5C1410.9 539.7 1414.9 543.9 1418.9 548.2C1423.0 552.4 1427.0 556.7 1431.0 561.1C1435.0 565.4 1439.0 569.8 1443.0 574.1C1447.0 578.5 1451.0 582.9 1455.0 587.3C1459.0 591.7 1463.0 596.2 1467.1 600.6C1471.1 605.0 1475.1 609.5 1479.1 613.9C1483.1 618.4 1487.1 622.8 1491.1 627.2C1495.1 631.7 1499.1 636.1 1503.1 640.5C1507.1 644.9 1511.1 649.3 1515.2 653.7C1519.2 658.1 1523.2 662.4 1527.2 666.7C1531.2 671.1 1535.2 675.3 1539.2 679.6C1543.2 683.9 1547.2 688.1 1551.2 692.2C1555.2 696.4 1559.3 700.6 1563.3 704.6C1567.3 708.7 1571.3 712.7 1575.3 716.7C1579.3 720.7 1583.3 724.6 1587.3 728.4C1591.3 732.3 1595.3 736.1 1599.3 739.8C1603.4 743.5 1607.4 747.1 1611.4 750.7C1615.4 754.2 1619.4 757.7 1623.4 761.1C1627.4 764.5 1631.4 767.8 1635.4 771.0C1639.4 774.2 1643.4 777.4 1647.4 780.4C1651.5 783.5 1655.5 786.5 1659.5 789.4C1663.5 792.3 1667.5 795.1 1671.5 797.9C1675.5 800.6 1679.5 803.3 1683.5 805.9C1687.5 808.4 1691.5 810.9 1695.6 813.3C1699.6 815.7 1703.6 818.1 1707.6 820.3C1711.6 822.6 1715.6 824.7 1719.6 826.8C1723.6 828.9 1727.6 830.9 1731.6 832.8C1735.6 834.7 1739.7 836.5 1743.7 838.3C1747.7 840.0 1751.7 841.7 1755.7 843.3C1759.7 844.9 1763.7 846.4 1767.7 847.8C1771.7 849.2 1775.7 850.5 1779.7 851.7C1783.8 853.0 1787.8 854.1 1791.8 855.2C1795.8 856.3 1799.8 857.3 1803.8 858.1C1807.8 859.0 1811.8 859.9 1815.8 860.6C1819.8 861.3 1823.8 862.0 1827.8 862.5C1831.9 863.1 1835.9 863.5 1839.9 863.9C1843.9 864.3 1847.9 864.6 1851.9 864.9C1855.9 865.1 1859.9 865.2 1863.9 865.3C1867.9 865.4 1871.9 865.4 1876.0 865.3C1880.0 865.2 1884.0 865.0 1888.0 864.7C1892.0 864.5 1896.0 864.2 1900.0 863.7C1904.0 863.3 1908.0 862.9 1912.0 862.3C1916.0 861.7 1920.1 861.1 1924.1 860.4C1928.1 859.7 1932.1 859.0 1936.1 858.1C1940.1 857.3 1944.1 856.4 1948.1 855.5C1952.1 854.6 1956.1 853.6 1960.1 852.6C1964.1 851.5 1968.2 850.4 1972.2 849.3C1976.2 848.2 1980.2 847.1 1984.2 845.9C1988.2 844.7 1992.2 843.4 1996.2 842.2"/>
<path stroke="#00ffff" d="M312.5 696.9C316.5 696.9 320.5 696.9 324.5 696.9C328.5 696.9 332.5 696.9 336.6 696.9C340.6 696.8 344.6 696.8 348.6 696.7C352.6 696.6 356.6 696.5 360.6 696.4C364.6 696.2 368.6 696.1 372.6 695.9C376.6 695.7 380.7 695.5 384.7 695.3C388.7 695.1 392.7 694.9 396.7 694.6C400.7 694.3 404.7 694.0 408.7 693.7C412.7 693.4 416.7 693.0 420.7 692.6C424.7 692.2 428.8 691.8 432.8 691.4C436.8 691.0 440.8 690.5 444.8 690.0C448.8 689.5 452.8 688.9 456.8 688.4C460.8 687.8 464.8 687.2 468.8 686.6C472.9 686.0 476.9 685.3 480.9 684.6C484.9 683.9 488.9 683.2 492.9 682.4C496.9 681.6 500.9 680.8 504.9 680.0C508.9 679.1 512.9 678.2 517.0 677.3C521.0 676.4 525.0 675.4 529.0 674.4C533.0 673.4 537.0 672.4 541.0 671.3C545.0 670.2 549.0 669.1 553.0 667.9C557.0 666.8 561.0 665.6 565.1 664.3C569.1 663.1 573.1 661.8 577.1 660.5C581.1 659.2 585.1 657.8 589.1 656.5C593.1 655.1 597.1 653.7 601.1 652.2C605.1 650.8 609.2 649.3 613.2 647.8C617.2 646.3 621.2 644.8 625.2 643.2C629.2 641.7 633.2 640.1 637.2 638.5C641.2 636.9 645.2 635.3 649.2 633.7C653.3 632.1 657.3 630.4 661.3 628.8C665.3 627.1 669.3 625.4 673.3 623.7C677.3 622.0 681.3 620.3 685.3 618.6C689.3 616.9 693.3 615.2 697.4 613.4C701.4 611.7 705.4 610.0 709.4 608.2C713.4 606.5 717.4 604.7 721.4 603.0C725.4 601.2 729.4 599.5 733.4 597.7C737.4 596.0 741.4 594.2 745.5 592.5C749.5 590.7 753.5 589.0 757.5 587.3C761.5 585.5 765.5 583.8 769.5 582.1C773.5 580.4 777.5 578.6 781.5 576.9C785.5 575.2 789.6 573.6 793.6 571.9C797.6 570.2 801.6 568.6 805.6 566.9C809.6 565.3 813.6 563.6 817.6 562.0C821.6 560.4 825.6 558.8 829.6 557.3C833.7 555.7 837.7 554.1 841.7 552.6C845.7 551.1 849.7 549.5 853.7 548.0C857.7 546.6 861.7 545.1 865.7 543.6C869.7 542.2 873.7 540.8 877.7 539.4C881.8 538.0 885.8 536.6 889.8 535.2C893.8 533.9 897.8 532.6 901.8 531.3C905.8 530.0 909.8 528.7 913.8 527.5C917.8 526.3 921.8 525.0 925.9 523.9C929.9 522.7 933.9 521.6 937.9 520.5C941.9 519.3 945.9 518.3 949.9 517.2C953.9 516.2 957.9 515.2 961.9 514.2C965.9 513.3 970.0 512.3 974.0 511.4C978.0 510.5 982.0 509.7 986.0 508.9C990.0 508.1 994.0 507.3 998.0 506.6C1002.0 505.8 1006.0 505.1 1010.0 504.5C1014.0 503.8 1018.1 503.2 1022.1 502.7C1026.1 502.1 1030.1 501.6 1034.1 501.1C1038.1 500.6 1042.1 500.2 1046.1 499.8C1050.1 499.4 1054.1 499.1 1058.1 498.8C1062.2 498.5 1066.2 498.2 1070.2 498.0C1074.2 497.8 1078.2 497.6 1082.2 497.5C1086.2 497.3 1090.2 497.2 1094.2 497.2C1098.2 497.1 1102.2 497.1 1106.3 497.1C1110.3 497.1 1114.3 497.2 1118.3 497.3C1122.3 497.4 1126.3 497.5 1130.3 497.7C1134.3 497.9 1138.3 498.1 1142.3 498.4C1146.3 498.7 1150.4 499.0 1154.4 499.4C1158.4 499.7 1162.4 500.1 1166.4 500.6C1170.4 501.0 1174.4 501.5 1178.4 502.1C1182.4 502.6 1186.4 503.2 1190.4 503.8C1194.4 504.5 1198.5 505.2 1202.5 505.9C1206.5 506.6 1210.5 507.4 1214.5 508.3C1218.5 509.1 1222.5 510.0 1226.5 510.9C1230.5 511.8 1234.5 512.8 1238.5 513.8C1242.6 514.8 1246.6 515.9 1250.6 517.0C1254.6 518.1 1258.6 519.2 1262.6 520.4C1266.6 521.6 1270.6 522.8 1274.6 524.1C1278.6 525.3 1282.6 526.6 1286.7 527.9C1290.7 529.2 1294.7 530.6 1298.7 532.0C1302.7 533.4 1306.7 534.8 1310.7 536.3C1314.7 537.7 1318.7 539.2 1322.7 540.7C1326.7 542.2 1330.7 543.8 1334.8 545.3C1338.8 546.9 1342.8 548.5 1346.8 550.1C1350.8 551.7 1354.8 553.3 1358.8 555.0C1362.8 556.7 1366.8 558.4 1370.8 560.1C1374.8 561.8 1378.9 563.5 1382.9 565.2C1386.9 567.0 1390.9 568.7 1394.9 570.5C1398.9 572.3 1402.9 574.0 1406.9 575.8C1410.9 577.6 1414.9 579.5 1418.9 581.3C1423.0 583.1 1427.0 584.9 1431.0 586.8C1435.0 588.6 1439.0 590.5 1443.0 592.3C1447.0 594.2 1451.0 596.1 1455.0 597.9C1459.0 599.8 1463.0 601.7 1467.1 603.6C1471.1 605.4 1475.1 607.3 1479.1 609.2C1483.1 611.1 1487.1 613.0 1491.1 614.8C1495.1 616.7 1499.1 618.6 1503.1 620.5C1507.1 622.3 1511.1 624.2 1515.2 626.1C1519.2 627.9 1523.2 629.8 1527.2 631.6C1531.2 633.5 1535.2 635.3 1539.2 637.2C1543.2 639.0 1547.2 640.8 1551.2 642.6C1555.2 644.4 1559.3 646.2 1563.3 648.0C1567.3 649.8 1571.3 651.6 1575.3 653.3C1579.3 655.1 1583.3 656.8 1587.3 658.5C1591.3 660.2 1595.3 661.9 1599.3 663.6C1603.4 665.3 1607.4 666.9 1611.4 668.5C1615.4 670.2 1619.4 671.8 1623.4 673.4C1627.4 674.9 1631.4 676.5 1635.4 678.0C1639.4 679.6 1643.4 681.1 1647.4 682.6C1651.5 684.0 1655.5 685.5 1659.5 686.9C1663.5 688.3 1667.5 689.7 1671.5 691.1C1675.5 692.4 1679.5 693.8 1683.5 695.1C1687.5 696.3 1691.5 697.6 1695.6 698.8C1699.6 700.1 1703.6 701.3 1707.6 702.4C1711.6 703.6 1715.6 704.7 1719.6 705.8C1723.6 706.9 1727.6 707.9 1731.6 708.9C1735.6 709.9 1739.7 710.9 1743.7 711.8C1747.7 712.7 1751.7 713.6 1755.7 714.4C1759.7 715.3 1763.7 716.1 1767.7 716.8C1771.7 717.6 1775.7 718.3 1779.7 719.0C1783.8 719.6 1787.8 720.2 1791.8 720.8C1795.8 721.4 1799.8 721.9 1803.8 722.4C1807.8 722.8 1811.8 723.3 1815.8 723.6C1819.8 724.0 1823.8 724.3 1827.8 724.6C1831.9 724.9 1835.9 725.1 1839.9 725.3C1843.9 725.5 1847.9 725.6 1851.9 725.7C1855.9 725.8 1859.9 725.9 1863.9 725.9C1867.9 725.9 1871.9 725.9 1876.0 725.8C1880.0 725.8 1884.0 725.7 1888.0 725.5C1892.0 725.4 1896.0 725.2 1900.0 725.0C1904.0 724.8 1908.0 724.5 1912.0 724.3C1916.0 724.0 1920.1 723.7 1924.1 723.3C1928.1 723.0 1932.1 722.6 1936.1 722.2C1940.1 721.8 1944.1 721.4 1948.1 721.0C1952.1 720.5 1956.1 720.0 1960.1 719.5C1964.1 719.0 1968.2 718.5 1972.2 718.0C1976.2 717.4 1980.2 716.8 1984.2 716.3C1988.2 715.7 1992.2 715.1 1996.2 714.4"/>
</g>
<rect x="352" y="714.5" width="1111" height="444.5" fill="#fff" stroke="#000" stroke-width="4" shape-rendering="crispEdges"/>
<g fill="none" stroke-width="7.2" stroke-linecap="round" shape-rendering="crispEdges">
<path stroke="#0000ff" d="M386 795.5 H469.5"/>
<path stroke="#00b900" d="M386 889.7 H469.5"/>
<path stroke="#ff0000" d="M386 983.9 H469.5"/>
<path stroke="#000000" d="M386 1078.7 H469.5"/>
<path stroke="#b900b9" d="M914 795.5 H996.5"/>
<path stroke="#0080ff" d="M914 889.7 H996.5"/>
<path stroke="#00ffff" d="M914 983.9 H996.5"/>
</g>
<text font-size="66.5" transform="translate(568.42 806.20) scale(0.9850 1)">I</text>
<text font-size="42.5" transform="translate(590.32 827.00) scale(1.0294 1)">DC</text>
<text font-size="66.5" transform="translate(661.88 806.20) scale(1.1481 1)">=</text>
<text font-size="66.5" transform="translate(716.64 806.20) scale(0.9906 1)">5.76A</text>
<text font-size="66.5" transform="translate(568.42 900.60) scale(0.9850 1)">I</text>
<text font-size="42.5" transform="translate(590.32 921.40) scale(1.0294 1)">DC</text>
<text font-size="66.5" transform="translate(661.88 900.60) scale(1.1481 1)">=</text>
<text font-size="66.5" transform="translate(716.64 900.60) scale(0.9906 1)">3.76A</text>
<text font-size="66.5" transform="translate(568.42 995.00) scale(0.9850 1)">I</text>
<text font-size="42.5" transform="translate(590.32 1015.80) scale(1.0294 1)">DC</text>
<text font-size="66.5" transform="translate(661.88 995.00) scale(1.1481 1)">=</text>
<text font-size="66.5" transform="translate(716.64 995.00) scale(0.9906 1)">1.76A</text>
<text font-size="66.5" transform="translate(568.42 1089.40) scale(0.9850 1)">I</text>
<text font-size="42.5" transform="translate(590.32 1110.20) scale(1.0294 1)">DC</text>
<text font-size="66.5" transform="translate(661.88 1089.40) scale(1.1481 1)">=</text>
<text font-size="66.5" transform="translate(716.64 1089.40) scale(0.9906 1)">0A</text>
<text font-size="66.5" transform="translate(1095.42 806.20) scale(0.9850 1)">I</text>
<text font-size="42.5" transform="translate(1117.74 827.00) scale(1.0204 1)">DC</text>
<text font-size="66.5" transform="translate(1189.50 806.20) scale(1.1416 1)">=</text>
<text font-size="66.5" transform="translate(1245.06 806.20) scale(0.9830 1)">-1.76A</text>
<text font-size="66.5" transform="translate(1095.42 900.60) scale(0.9850 1)">I</text>
<text font-size="42.5" transform="translate(1117.74 921.40) scale(1.0204 1)">DC</text>
<text font-size="66.5" transform="translate(1189.50 900.60) scale(1.1416 1)">=</text>
<text font-size="66.5" transform="translate(1245.06 900.60) scale(0.9830 1)">-3.76A</text>
<text font-size="66.5" transform="translate(1095.42 995.00) scale(0.9850 1)">I</text>
<text font-size="42.5" transform="translate(1117.74 1015.80) scale(1.0204 1)">DC</text>
<text font-size="66.5" transform="translate(1189.50 995.00) scale(1.1416 1)">=</text>
<text font-size="66.5" transform="translate(1245.06 995.00) scale(0.9830 1)">-5.76A</text>
</svg></body></html>
